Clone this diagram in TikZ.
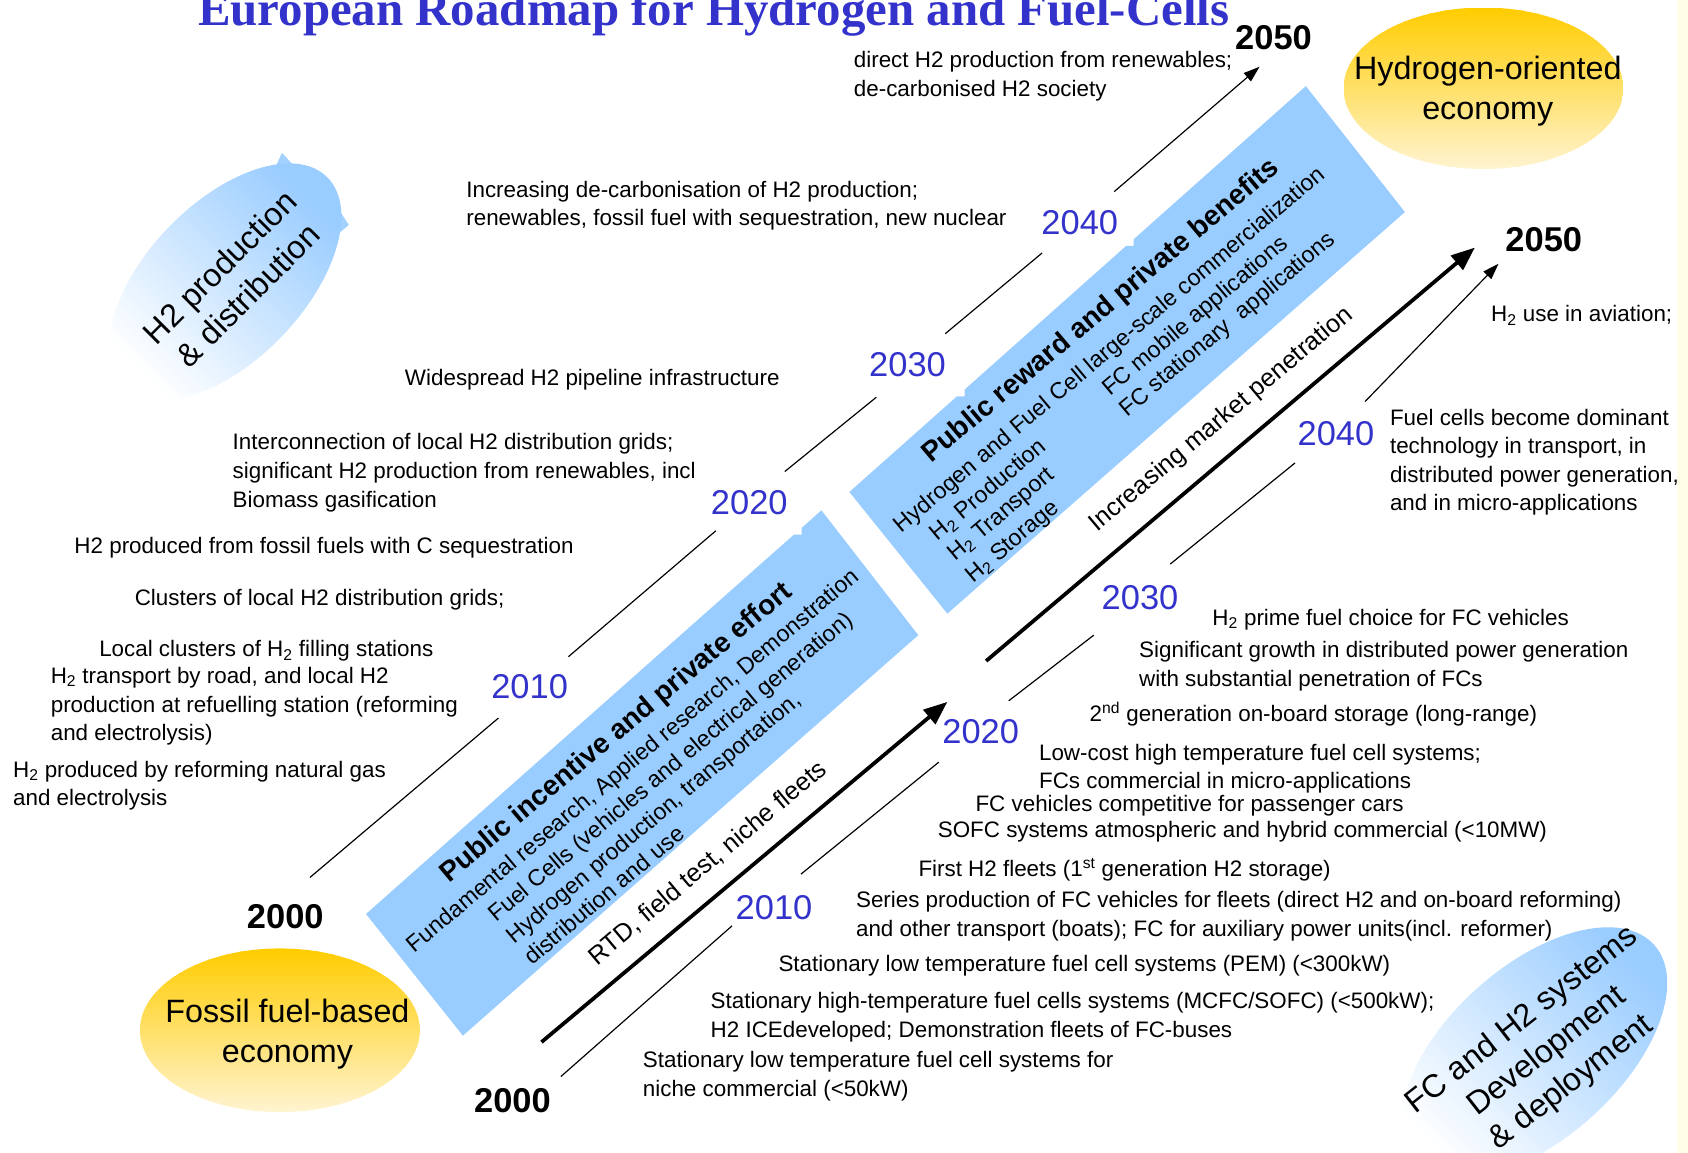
\documentclass[tikz,border=0pt]{standalone}
\usepackage{fontspec}
\setmainfont{Liberation Sans}
\newfontfamily\headserif{Liberation Serif}
\usetikzlibrary{arrows.meta}

\definecolor{yearblue}{HTML}{3333CC}
\definecolor{panelblue}{HTML}{99CCFF}
\definecolor{ovalgold}{HTML}{FFCC00}
\definecolor{ovalpale}{HTML}{FFF4D2}
\definecolor{edgestrip}{HTML}{FFFDE8}

% stacked lines, first baseline is the box baseline
\newcommand\lstack[1]{\vtop{\halign{##\hfil\cr#1\crcr}}}
\newcommand\cstack[1]{\vtop{\halign{\hfil##\hfil\cr#1\crcr}}}
\newcommand\Htwo{H\textsubscript{2}}
% gold oval with a top-to-bottom gradient built from thin bands
% #1 centre x, #2 centre y (downwards), #3 x radius, #4 y radius
\newcommand\goldoval[4]{%
  \begin{scope}
    \clip (#1,#2) ellipse [x radius=#3pt,y radius=#4pt];
    \foreach \i in {0,...,59}{%
      \pgfmathtruncatemacro\mixpc{(\i+0.5)/60*100}%
      \fill[ovalpale!\mixpc!ovalgold]
        ({#1-#3},{#2-#4+\i*(2*#4)/60}) rectangle ({#1+#3},{#2-#4+(\i+1)*(2*#4)/60+0.8});
    }
  \end{scope}}

\begin{document}
\begin{tikzpicture}[x=1pt,y=-1pt,
  note/.style={anchor=base west,inner sep=0pt,font=\fontsize{20.8}{26.5}\selectfont},
  yr/.style={inner sep=0pt,font=\fontsize{32}{32}\selectfont,text=yearblue},
  yrbold/.style={inner sep=0pt,font=\fontsize{32}{32}\selectfont\bfseries},
  thinline/.style={line width=1.1pt},
  thinarrow/.style={line width=1.1pt,-{Triangle[length=15pt,width=10pt]}},
  thickarrow/.style={line width=3.5pt,-{Triangle[length=22pt,width=17pt]}},
  panel/.style={fill=panelblue},
  paneltxt/.style={anchor=base west,inner sep=0pt,font=\fontsize{21.5}{26}\selectfont},
  panelhead/.style={anchor=base west,inner sep=0pt,font=\fontsize{26}{30}\selectfont\bfseries},
  arrowtxt/.style={anchor=base west,inner sep=0pt,font=\fontsize{23.5}{28}\selectfont},
  bluebubble/.style={top color=panelblue,bottom color=white,shading angle=-45},
  ovaltxt/.style={inner sep=0pt,font=\fontsize{30}{37}\selectfont},
]

\useasboundingbox (0,0) rectangle (1568,1071);
\fill[edgestrip] (1558,0) rectangle (1568,1071);

% title
\node[anchor=base,inner sep=0pt,text=yearblue,
      font=\headserif\fontsize{45.4}{50}\selectfont\bfseries] (title) at (663,24)
  {European Roadmap for Hydrogen and Fuel-Cells};

% economy ovals
\goldoval{1378}{82}{130}{75}
\goldoval{260}{957}{130}{76}
\node[ovaltxt] (hoe) at (1382,85) {\cstack{Hydrogen-oriented\cr economy}};
\node[ovaltxt] (ffe) at (267,961) {\cstack{Fossil fuel-based\cr economy}};

% blue bubbles
\fill[panelblue!90!white] (255,157) -- (262,142) -- (273,154) -- cycle;
\fill[panelblue!90!white] (315,195) -- (324,209) -- (312,219) -- cycle;
\begin{scope}[shift={(209,262)},rotate=46]
  \shade[bluebubble] (0,0) ellipse [x radius=136pt,y radius=73pt];
\end{scope}
\node[ovaltxt,rotate=45] (h2pd) at (217,261) {\cstack{H2 production\cr \& distribution}};

\begin{scope}[shift={(1425,978)},rotate=42]
  \shade[bluebubble] (0,0) ellipse [x radius=150pt,y radius=80pt];
\end{scope}
\node[ovaltxt,rotate=38] (fch2) at (1437,977) {\cstack{FC and H2 systems\cr Development\cr \& deployment}};

% programme panels
\path[panel] (340,849) -- (737.6,496.5) -- (744.6,496.5) -- (744.6,490.5)
  -- (763,474) -- (853,590) -- (430,962) -- cycle;
\path[panel] (789,457) -- (889,368.1) -- (896,368.1) -- (896,361.9)
  -- (1046,228.5) -- (1053,228.5) -- (1053,222.3)
  -- (1213,80) -- (1305,197) -- (880,570) -- cycle;

\begin{scope}[rotate=40,transform shape]
  \node[panelhead] (pie)  at (-208,897) {Public incentive and private effort};
  \node[paneltxt]  (pie1) at (-274,926) {Fundamental research, Applied research, Demonstration};
  \node[paneltxt]  (pie2) at (-198,953) {Fuel Cells (vehicles and electrical generation)};
  \node[paneltxt]  (pie3) at (-198,979) {Hydrogen production, transportation,};
  \node[paneltxt]  (pie4) at (-198,1005) {distribution and use};

  \node[panelhead] (prp)  at (386,886) {Public reward and private benefits};
  \node[paneltxt]  (prp1) at (323,918) {Hydrogen and Fuel Cell large-scale commercialization};
  \node[paneltxt]  (prp2) at (344,945) {\Htwo{} Production};
  \node[paneltxt]  (prp3) at (344,970) {\Htwo{} Transport};
  \node[paneltxt]  (prp4) at (344,996) {\Htwo{} Storage};
  \node[paneltxt]  (prp5) at (553,945) {FC mobile applications};
  \node[paneltxt]  (prp6) at (553,970) {FC stationary\ \ applications};

  \node[arrowtxt] (rtd) at (-152,1044) {RTD, field test, niche fleets};
  \node[arrowtxt] (imp) at (463,1034) {Increasing market penetration};
\end{scope}

% central market arrows
\coordinate (ma1s) at (503,968);  \coordinate (ma1e) at (880,652);
\coordinate (ma2s) at (916,614);  \coordinate (ma2e) at (1370,230);
\draw[thickarrow] (ma1s) -- (ma1e);
\draw[thickarrow] (ma2s) -- (ma2e);

% upper time line: H2 production & distribution
\node[yrbold] (l2000) at (265,851) {2000};
\node[yr]     (l2010) at (492,638) {2010};
\node[yr]     (l2020) at (696,467) {2020};
\node[yr]     (l2030) at (843,339) {2030};
\node[yr]     (l2040) at (1003,207) {2040};
\node[yrbold] (l2050) at (1183,35) {2050};
\coordinate (la1s) at (288,815);  \coordinate (la1e) at (463,667);
\coordinate (la2s) at (528,610);  \coordinate (la2e) at (665,493);
\coordinate (la3s) at (729,438);  \coordinate (la3e) at (814,369);
\coordinate (la4s) at (878,310);  \coordinate (la4e) at (968,235);
\coordinate (la5s) at (1035,178); \coordinate (la5e) at (1170,62);
\draw[thinline] (la1s) -- (la1e);
\draw[thinline] (la2s) -- (la2e);
\draw[thinline] (la3s) -- (la3e);
\draw[thinline] (la4s) -- (la4e);
\draw[thinarrow] (la5s) -- (la5e);

% lower time line: FC and H2 systems
\node[yrbold] (r2000) at (476,1022) {2000};
\node[yr]     (r2010) at (719,843) {2010};
\node[yr]     (r2020) at (911,680) {2020};
\node[yr]     (r2030) at (1059,555) {2030};
\node[yr]     (r2040) at (1241,403) {2040};
\node[yrbold] (r2050) at (1434,223) {2050};
\coordinate (ra1s) at (521,1000); \coordinate (ra1e) at (680,860);
\coordinate (ra2s) at (744,812);  \coordinate (ra2e) at (872,708);
\coordinate (ra3s) at (937,651);  \coordinate (ra3e) at (1016,590);
\coordinate (ra4s) at (1087,524); \coordinate (ra4e) at (1203,430);
\coordinate (ra5s) at (1268,373); \coordinate (ra5e) at (1392,245);
\draw[thinline] (ra1s) -- (ra1e);
\draw[thinline] (ra2s) -- (ra2e);
\draw[thinline] (ra3s) -- (ra3e);
\draw[thinline] (ra4s) -- (ra4e);
\draw[thinarrow] (ra5s) -- (ra5e);

% production and distribution milestones
\node[note] (n50a) at (793,63)  {\lstack{direct H2 production from renewables;\cr de-carbonised H2 society}};
\node[note] (n40a) at (433,183) {\lstack{Increasing de-carbonisation of H2 production;\cr renewables, fossil fuel with sequestration, new nuclear}};
\node[note] (n30a) at (376,358) {Widespread H2 pipeline infrastructure};
\node[note] (n20a) at (216,418) {\lstack{Interconnection of local H2 distribution grids;\cr significant H2 production from renewables, incl\cr Biomass gasification}};
\node[note] (n20b) at (69,514)  {H2 produced from fossil fuels with C sequestration};
\node[note] (n10a) at (125,562) {Clusters of local H2 distribution grids;};
\node[note] (n10b) at (92,610)  {Local clusters of \Htwo{} filling stations};
\node[note] (n10c) at (47,635)  {\lstack{\Htwo{} transport by road, and local H2\cr production at refuelling station (reforming\cr and electrolysis)}};
\node[note] (n00a) at (12,722)  {\lstack{\Htwo{} produced by reforming natural gas\cr and electrolysis}};

% fuel cell milestones
\node[note] (m50a) at (1385,299) {\Htwo{} use in aviation;};
\node[note] (m40a) at (1291,395) {\lstack{Fuel cells become dominant\cr technology in transport, in\cr distributed power generation,\cr and in micro-applications}};
\node[note] (m30a) at (1126,581) {\Htwo{} prime fuel choice for FC vehicles};
\node[note] (m30b) at (1058,611) {\lstack{Significant growth in distributed power generation\cr with substantial penetration of FCs}};
\node[note] (m30c) at (1012,670) {2\textsuperscript{nd} generation on-board storage (long-range)};
\node[note] (m20a) at (965,706) {\lstack{Low-cost high temperature fuel cell systems;\cr FCs commercial in micro-applications}};
\node[note] (m20b) at (906,754) {FC vehicles competitive for passenger cars};
\node[note] (m20c) at (871,778) {SOFC systems atmospheric and hybrid commercial (<10MW)};
\node[note] (m10a) at (853,814) {First H2 fleets (1\textsuperscript{st} generation H2 storage)};
\node[note] (m10b) at (795,843) {\lstack{Series production of FC vehicles for fleets (direct H2 and on-board reforming)\cr and other transport (boats); FC for auxiliary power units(incl. reformer)}};
\node[note] (m10c) at (723,902) {Stationary low temperature fuel cell systems (PEM) (<300kW)};
\node[note] (m10d) at (660,937) {\lstack{Stationary high-temperature fuel cells systems (MCFC/SOFC) (<500kW);\cr H2 ICEdeveloped; Demonstration fleets of FC-buses}};
\node[note] (m00a) at (597,992) {\lstack{Stationary low temperature fuel cell systems for\cr niche commercial (<50kW)}};

\end{tikzpicture}
\end{document}
